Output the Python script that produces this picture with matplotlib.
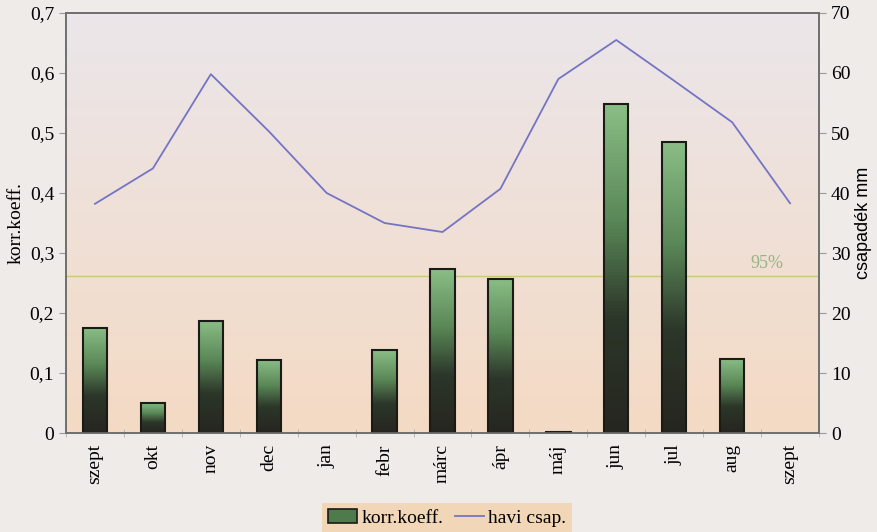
import numpy as np
import matplotlib
matplotlib.use("Agg")
import matplotlib.pyplot as plt
from matplotlib.colors import LinearSegmentedColormap
from matplotlib.patches import Rectangle
from matplotlib.legend_handler import HandlerBase
from matplotlib.lines import Line2D

# Data
months = ["szept", "okt", "nov", "dec", "jan", "febr", "márc", "ápr",
          "máj", "jun", "jul", "aug", "szept"]
korr = [0.175, 0.05, 0.187, 0.122, 0.0, 0.138, 0.273, 0.257,
        0.002, 0.548, 0.485, 0.124, 0.0]
csap = [38.2, 44.1, 59.8, 50.3, 40.0, 35.0, 33.5, 40.7,
        59.0, 65.5, 58.7, 51.8, 38.3]
level_95 = 0.262

plt.rcParams['font.family'] = ['Liberation Serif', 'DejaVu Serif']

bar_cmap = LinearSegmentedColormap.from_list(
    "bar", [(0.0, "#262620"), (0.35, "#2c3629"), (0.65, "#5a8857"), (1.0, "#8abd86")])

fig = plt.figure(figsize=(8.78, 5.32), dpi=100)
fig.patch.set_facecolor("#eeebe9")

ax = fig.add_axes([0.0752, 0.186, 0.8576, 0.7896])
ax2 = ax.twinx()

x = np.arange(len(months))
ax.set_xlim(-0.5, len(months) - 0.5)
ax.set_ylim(0, 0.7)
ax2.set_ylim(0, 70)

# paper-like background gradient in the plot area
bg = LinearSegmentedColormap.from_list("bg", ["#f4dac4", "#ebe6ea"])
ax.imshow(np.linspace(0, 1, 100).reshape(-1, 1), cmap=bg, aspect="auto",
          extent=(-0.5, len(months) - 0.5, 0, 0.7), origin="lower", zorder=0)

# gradient bars
width = 0.42
bars = ax.bar(x, korr, width=width, color="none", edgecolor="#1a1a16",
              linewidth=1.5, zorder=3)
for b in bars:
    h = b.get_height()
    if h <= 0:
        b.set_visible(False)
        continue
    im = ax.imshow(np.linspace(0, 1, 100).reshape(-1, 1), cmap=bar_cmap,
                   aspect="auto", origin="lower", zorder=2,
                   extent=(b.get_x(), b.get_x() + b.get_width(), 0, h))
    im.set_clip_path(b)

# 95% significance level
ax.axhline(level_95, color="#c2cc72", linewidth=1.0, zorder=1)
ax.text(11.6, level_95 + 0.006, "95%", color="#93b483", fontsize=13,
        ha="center", va="bottom")

# precipitation line
ax2.plot(x, csap, color="#7474c4", linewidth=1.3, zorder=4)

ax.set_xticks(x)
ax.set_xticklabels(months, rotation=90, fontsize=14)
ax.set_xticks(np.arange(-0.5, len(months)), minor=True)
ax.tick_params(axis="x", which="major", length=0, pad=8)
ax.tick_params(axis="x", which="minor", length=6, direction="inout",
               color="#b8b0a8")
ax.set_yticks(np.arange(0, 0.71, 0.1))
ax.set_yticklabels(["0"] + [f"0,{i}" for i in range(1, 8)], fontsize=14)
ax.tick_params(axis="y", length=5, color="#999999")
ax.set_ylabel("korr.koeff.", fontsize=14, labelpad=4)

ax2.set_yticks(np.arange(0, 71, 10))
ax2.set_yticklabels([str(v) for v in range(0, 71, 10)], fontsize=14)
ax2.tick_params(axis="y", length=5, color="#999999")
ax2.set_ylabel("csapadék mm", fontsize=13, family=["Liberation Sans"], labelpad=3)

for a in (ax, ax2):
    for s in a.spines.values():
        s.set_color("#6e6e6e")
        s.set_linewidth(1.2)

ax.set_zorder(ax2.get_zorder() - 1)
ax2.patch.set_visible(False)


class GradientHandler(HandlerBase):
    def create_artists(self, legend, orig_handle, xdescent, ydescent,
                       width, height, fontsize, trans):
        r = Rectangle((-xdescent, -ydescent), width, height,
                      facecolor="#4e7a4c", edgecolor="#1a1a16", linewidth=1.2,
                      transform=trans)
        return [r]


bar_handle = Rectangle((0, 0), 1, 1)
line_handle = Line2D([], [], color="#7474c4", linewidth=1.3)
leg = fig.legend([bar_handle, line_handle], ["korr.koeff.", "havi csap."],
                 handler_map={Rectangle: GradientHandler()},
                 loc="lower center", bbox_to_anchor=(0.509, -0.012), ncol=2,
                 fontsize=14, frameon=True, fancybox=False,
                 handlelength=1.5, handletextpad=0.2, columnspacing=0.6,
                 borderpad=0.3, borderaxespad=0.3)
leg.get_frame().set_facecolor("#f1d6b8")
leg.get_frame().set_edgecolor("none")
leg.get_frame().set_alpha(1)

fig.savefig("out.png", dpi=100, facecolor=fig.get_facecolor())
